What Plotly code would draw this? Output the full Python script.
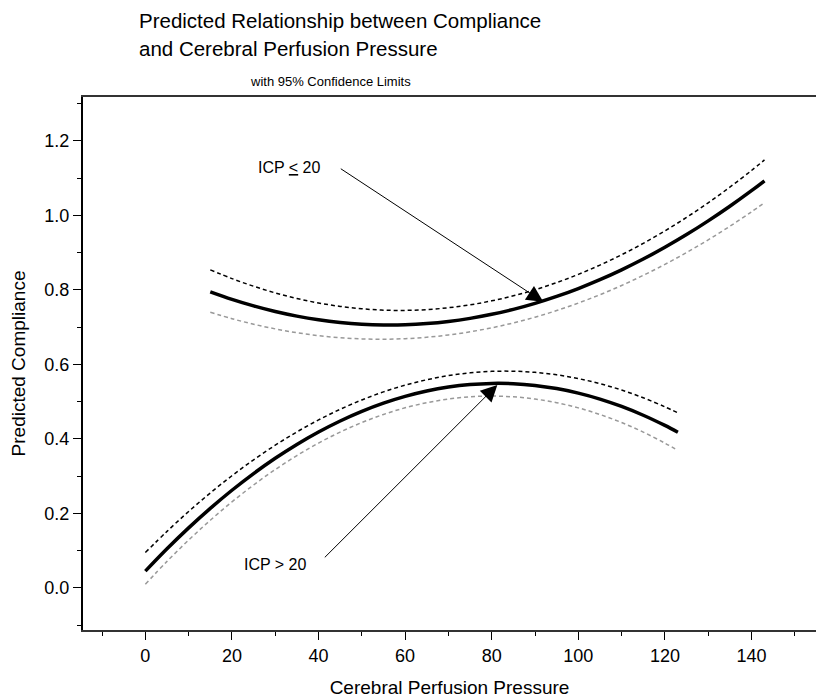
import plotly.graph_objects as go

# ICP <= 20 group
x_hi = [15, 20, 25, 30, 35, 40, 45, 50, 55, 60, 65, 70, 75, 80, 85, 90, 95, 100,
        105, 110, 115, 120, 125, 130, 135, 140, 143]
hi_fit = [0.7948, 0.7747, 0.7571, 0.7421, 0.7297, 0.7199, 0.7127, 0.7080, 0.7060,
          0.7065, 0.7096, 0.7153, 0.7236, 0.7345, 0.7479, 0.7640, 0.7826, 0.8038,
          0.8276, 0.8540, 0.8829, 0.9145, 0.9486, 0.9854, 1.0247, 1.0666, 1.0930]
hi_upper = [0.8540, 0.8305, 0.8099, 0.7921, 0.7771, 0.7650, 0.7558, 0.7494, 0.7458,
            0.7451, 0.7472, 0.7522, 0.7600, 0.7707, 0.7842, 0.8005, 0.8197, 0.8418,
            0.8667, 0.8944, 0.9250, 0.9585, 0.9948, 1.0339, 1.0759, 1.1207, 1.1490]
hi_lower = [0.7400, 0.7228, 0.7080, 0.6954, 0.6852, 0.6773, 0.6718, 0.6686, 0.6677,
            0.6692, 0.6730, 0.6791, 0.6876, 0.6983, 0.7115, 0.7269, 0.7447, 0.7648,
            0.7872, 0.8120, 0.8391, 0.8686, 0.9004, 0.9345, 0.9709, 1.0097, 1.0340]

# ICP > 20 group
x_lo = [0, 5, 10, 15, 20, 25, 30, 35, 40, 45, 50, 55, 60, 65, 70, 75, 80, 85, 90,
        95, 100, 105, 110, 115, 120, 123]
lo_fit = [0.0450, 0.1050, 0.1612, 0.2136, 0.2622, 0.3070, 0.3480, 0.3852, 0.4186,
          0.4482, 0.4740, 0.4960, 0.5142, 0.5286, 0.5392, 0.5460, 0.5490, 0.5482,
          0.5436, 0.5352, 0.5230, 0.5070, 0.4872, 0.4636, 0.4362, 0.4180]
lo_upper = [0.0950, 0.1518, 0.2051, 0.2549, 0.3012, 0.3439, 0.3831, 0.4188, 0.4510,
            0.4796, 0.5047, 0.5263, 0.5444, 0.5589, 0.5699, 0.5774, 0.5814, 0.5818,
            0.5787, 0.5721, 0.5620, 0.5483, 0.5312, 0.5105, 0.4862, 0.4700]
lo_lower = [0.0100, 0.0712, 0.1284, 0.1817, 0.2310, 0.2763, 0.3178, 0.3553, 0.3888,
            0.4184, 0.4440, 0.4657, 0.4835, 0.4973, 0.5071, 0.5131, 0.5150, 0.5130,
            0.5071, 0.4972, 0.4834, 0.4656, 0.4439, 0.4183, 0.3887, 0.3689]

x_ticks = [0, 20, 40, 60, 80, 100, 120, 140]
y_ticks = [0.0, 0.2, 0.4, 0.6, 0.8, 1.0, 1.2]

FONT = "Liberation Sans, Arial, Helvetica, sans-serif"

fig = go.Figure()

def band(x, y, color, width, dash):
    fig.add_trace(go.Scatter(x=x, y=y, mode="lines", showlegend=False, hoverinfo="skip",
                             line=dict(color=color, width=width, dash=dash, shape="spline")))

band(x_hi, hi_upper, "black", 1.5, "4px,3px")
band(x_hi, hi_lower, "#999999", 1.5, "4px,3px")
band(x_hi, hi_fit, "black", 3.5, "solid")
band(x_lo, lo_upper, "black", 1.5, "4px,3px")
band(x_lo, lo_lower, "#999999", 1.5, "4px,3px")
band(x_lo, lo_fit, "black", 3.5, "solid")

annotations = [
    # arrows
    dict(x=91.9, y=0.768, ax=44.8, ay=1.128, xref="x", yref="y", axref="x", ayref="y",
         text="", showarrow=True, arrowhead=2, arrowsize=3.3, arrowwidth=1, arrowcolor="black"),
    dict(x=81.3, y=0.545, ax=41.1, ay=0.078, xref="x", yref="y", axref="x", ayref="y",
         text="", showarrow=True, arrowhead=2, arrowsize=3.3, arrowwidth=1, arrowcolor="black"),
    # labels
    dict(x=33.3, y=1.130, xref="x", yref="y", text="ICP <u>&lt;</u> 20", showarrow=False,
         font=dict(family=FONT, size=16, color="black")),
    dict(x=30.0, y=0.062, xref="x", yref="y", text="ICP &gt; 20", showarrow=False,
         font=dict(family=FONT, size=16, color="black")),
    # titles
    dict(x=(137 - 83) / 733, y=(630 - 20.5) / 533, xref="paper", yref="paper",
         xanchor="left", yanchor="middle", showarrow=False,
         text="Predicted Relationship between Compliance",
         font=dict(family=FONT, size=20.5, color="black")),
    dict(x=(137 - 83) / 733, y=(630 - 48) / 533, xref="paper", yref="paper",
         xanchor="left", yanchor="middle", showarrow=False,
         text="and Cerebral Perfusion Pressure",
         font=dict(family=FONT, size=20.5, color="black")),
    dict(x=(330 - 83) / 733, y=(630 - 81) / 533, xref="paper", yref="paper",
         xanchor="center", yanchor="middle", showarrow=False,
         text="with 95% Confidence Limits",
         font=dict(family=FONT, size=13, color="black")),
]

fig.update_layout(
    width=816, height=698,
    margin=dict(l=83, r=0, t=97, b=68, autoexpand=False),
    paper_bgcolor="white", plot_bgcolor="white",
    font=dict(family=FONT, color="black"),
    annotations=annotations,
    showlegend=False,
    xaxis=dict(
        range=[-14.4, 154.9], tickvals=x_ticks, ticks="outside", ticklen=8, tickwidth=1,
        tickcolor="black", showline=True, linewidth=2, linecolor="#333333", mirror=True,
        showgrid=False, zeroline=False, tickfont=dict(size=18, family=FONT),
        minor=dict(dtick=10, tick0=0, ticks="outside", ticklen=4, tickwidth=1, tickcolor="black", showgrid=False),
        title=dict(text="Cerebral Perfusion Pressure", font=dict(size=19, family=FONT), standoff=18),
    ),
    yaxis=dict(
        range=[-0.113, 1.318], tickvals=y_ticks, tickformat=".1f", ticks="outside", ticklen=8,
        tickwidth=1, tickcolor="black", showline=True, linewidth=2, linecolor="black",
        showgrid=False, zeroline=False, tickfont=dict(size=18, family=FONT),
        minor=dict(dtick=0.1, tick0=0, ticks="outside", ticklen=4, tickwidth=1, tickcolor="black", showgrid=False),
        title=dict(text="Predicted Compliance", font=dict(size=19, family=FONT), standoff=14),
    ),
)

fig.write_html("out.html")
